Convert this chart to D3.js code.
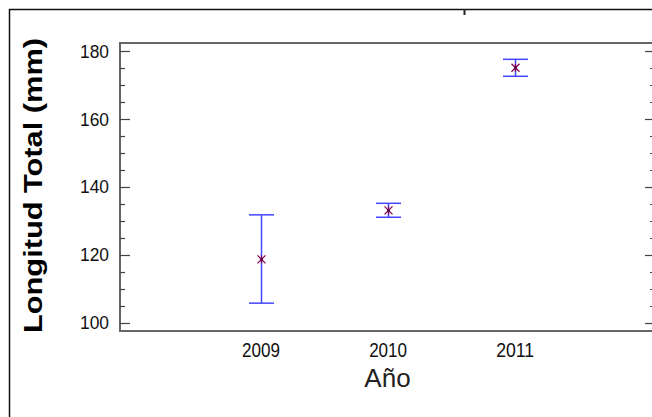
<!DOCTYPE html>
<html>
<head>
<meta charset="utf-8">
<script src="https://cdn.jsdelivr.net/npm/d3@7"></script>
<style>
  body { margin: 0; background: #fff; }
  svg { display: block; font-family: "Liberation Sans", Arial, sans-serif; }
</style>
</head>
<body>
<div id="chart"></div>
<script>
// data
const years = [2009, 2010, 2011];
const means = [118.7, 133.1, 175.1];
const lower = [105.8, 131.1, 172.6];
const upper = [131.8, 135.2, 177.6];
const yTicks = [100, 120, 140, 160, 180];

const width = 652, height = 417;
const plot = { left: 120, right: 655, top: 43, bottom: 331 };

const svg = d3.select("#chart").append("svg")
  .attr("width", width)
  .attr("height", height);

const x = d3.scaleLinear().domain([2007.89, 2012.1]).range([plot.left, plot.right]);
const y = d3.scaleLinear().domain([97.6, 182.4]).range([plot.bottom, plot.top]);

// outer frame (top + left only visible)
svg.append("path")
  .attr("d", `M9.5,417 V9.5 H652`)
  .attr("fill", "none")
  .attr("stroke", "#111")
  .attr("stroke-width", 1.5);
svg.append("line")
  .attr("x1", 464.5).attr("x2", 464.5)
  .attr("y1", 9).attr("y2", 15)
  .attr("stroke", "#222").attr("stroke-width", 2);

// plot box
svg.append("rect")
  .attr("x", plot.left).attr("y", plot.top)
  .attr("width", plot.right - plot.left)
  .attr("height", plot.bottom - plot.top)
  .attr("fill", "none")
  .attr("stroke", "#666")
  .attr("stroke-width", 2);

// y ticks left and right, minor every 5
const minor = d3.range(100, 181, 5);
const tickG = svg.append("g").attr("stroke", "#444").attr("stroke-width", 1.2);
minor.forEach(v => {
  const major = v % 20 === 0;
  const len = major ? 10 : 5;
  const yy = Math.round(y(v)) + 0.5;
  tickG.append("line")
    .attr("x1", plot.left).attr("x2", plot.left + len)
    .attr("y1", yy).attr("y2", yy);
  tickG.append("line")
    .attr("x1", plot.right - len).attr("x2", plot.right)
    .attr("y1", yy).attr("y2", yy);
});

svg.append("g")
  .selectAll("text")
  .data(yTicks)
  .join("text")
  .attr("x", 109)
  .attr("y", d => y(d))
  .attr("dy", "0.36em")
  .attr("text-anchor", "end")
  .attr("font-size", 18)
  .attr("textLength", 29)
  .attr("lengthAdjust", "spacingAndGlyphs")
  .attr("fill", "#111")
  .text(d => d);

// x tick labels
svg.append("g")
  .selectAll("text")
  .data(years)
  .join("text")
  .attr("x", d => x(d) - 19)
  .attr("y", 356.5)
  .attr("font-size", 20)
  .attr("textLength", 38)
  .attr("lengthAdjust", "spacingAndGlyphs")
  .attr("fill", "#111")
  .text(d => d);

// axis titles
svg.append("text")
  .attr("x", 387.5)
  .attr("y", 386.5)
  .attr("text-anchor", "middle")
  .attr("font-size", 26)
  .attr("fill", "#222")
  .text("Año");

svg.append("text")
  .attr("transform", `translate(42,185.5) rotate(-90)`)
  .attr("text-anchor", "middle")
  .attr("font-size", 25)
  .attr("font-weight", "bold")
  .attr("textLength", 295)
  .attr("lengthAdjust", "spacingAndGlyphs")
  .attr("fill", "#000")
  .text("Longitud Total (mm)");

// error bars
const bars = svg.append("g").attr("stroke", "#4545ff").attr("stroke-width", 1.5).attr("fill", "none");
years.forEach((yr, i) => {
  const cx = Math.round(x(yr)) + 0.5;
  bars.append("line").attr("x1", cx).attr("x2", cx).attr("y1", y(upper[i])).attr("y2", y(lower[i]));
  [upper[i], lower[i]].forEach(v => {
    bars.append("line")
      .attr("x1", cx - 12.5).attr("x2", cx + 12.5)
      .attr("y1", y(v)).attr("y2", y(v));
  });
});

// asterisk markers
const star = svg.append("g").attr("stroke", "#800050").attr("stroke-width", 1.2);
years.forEach((yr, i) => {
  const cx = Math.round(x(yr)) + 0.5, cy = y(means[i]);
  const r = 4;
  star.append("line").attr("x1", cx - r).attr("x2", cx + r).attr("y1", cy - r).attr("y2", cy + r);
  star.append("line").attr("x1", cx - r).attr("x2", cx + r).attr("y1", cy + r).attr("y2", cy - r);
  star.append("line").attr("x1", cx).attr("x2", cx).attr("y1", cy - r).attr("y2", cy + r);
  star.append("circle").attr("cx", cx).attr("cy", cy).attr("r", 1.5).attr("fill", "#600040").attr("stroke", "none");
});
</script>
</body>
</html>
